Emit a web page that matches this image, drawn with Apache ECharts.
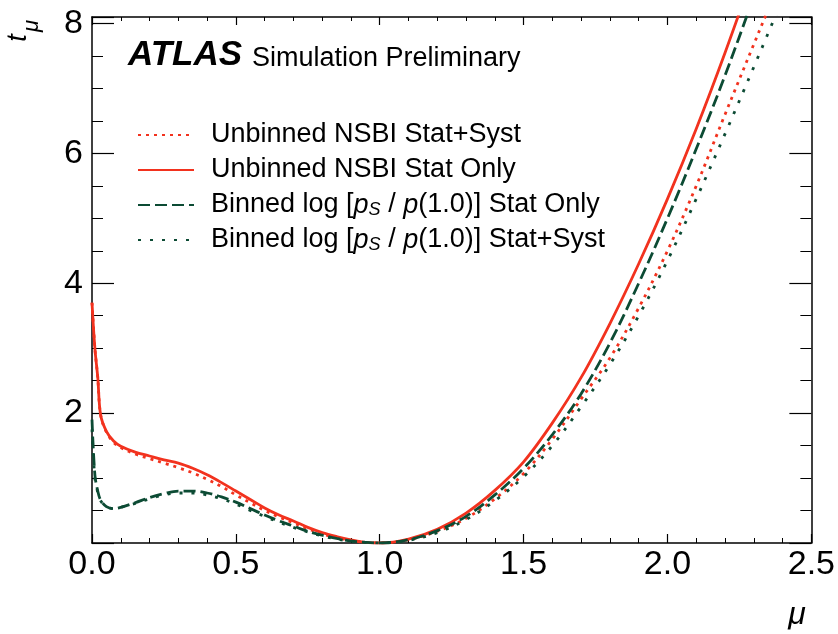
<!DOCTYPE html>
<html>
<head>
<meta charset="utf-8">
<script src="https://cdn.jsdelivr.net/npm/echarts@6/dist/echarts.min.js"></script>
<style>
  html, body { margin: 0; padding: 0; background: #fff; }
  #main { width: 838px; height: 634px; }
</style>
</head>
<body>
<div id="main"></div>
<script>
// mu scan points
var mu = [0, 0.01, 0.02, 0.03, 0.05, 0.075, 0.1, 0.15, 0.2, 0.25, 0.3, 0.35, 0.4, 0.45, 0.5,
  0.55, 0.6, 0.65, 0.7, 0.75, 0.8, 0.85, 0.9, 0.95, 1.0,
  1.1, 1.2, 1.3, 1.4, 1.5, 1.6, 1.7, 1.8, 1.9, 2.0, 2.1, 2.2, 2.3, 2.4, 2.5];

// t_mu values
var unbinnedSyst = [3.7, 3.0, 2.55, 1.97, 1.71, 1.55, 1.47, 1.37, 1.30, 1.23, 1.16, 1.08, 0.98, 0.87, 0.74,
  0.62, 0.50, 0.40, 0.31, 0.22, 0.14, 0.08, 0.04, 0.01, 0,
  0.05, 0.18, 0.38, 0.68, 1.07, 1.6, 2.22, 2.85, 3.62, 4.5, 5.5, 6.6, 7.68, 8.75, 9.8];
var unbinnedStat = [3.7, 3.0, 2.55, 1.97, 1.72, 1.57, 1.49, 1.40, 1.34, 1.28, 1.23, 1.15, 1.05, 0.93, 0.80,
  0.67, 0.54, 0.43, 0.34, 0.24, 0.16, 0.10, 0.05, 0.01, 0,
  0.06, 0.21, 0.46, 0.81, 1.25, 1.85, 2.55, 3.38, 4.3, 5.3, 6.38, 7.55, 8.8, 10.1, 11.4];
var binnedStat = [1.9, 1.05, 0.8, 0.66, 0.56, 0.53, 0.55, 0.62, 0.70, 0.76, 0.80, 0.80, 0.77, 0.71, 0.63,
  0.53, 0.43, 0.34, 0.26, 0.18, 0.12, 0.07, 0.03, 0.01, 0,
  0.05, 0.19, 0.41, 0.74, 1.15, 1.67, 2.3, 3.08, 4.0, 5.0, 6.07, 7.2, 8.42, 9.7, 11.0];
var binnedSyst = [1.75, 1.0, 0.78, 0.65, 0.56, 0.53, 0.55, 0.61, 0.68, 0.74, 0.77, 0.77, 0.74, 0.68, 0.60,
  0.50, 0.41, 0.32, 0.24, 0.17, 0.11, 0.06, 0.03, 0.01, 0,
  0.04, 0.16, 0.36, 0.65, 1.02, 1.5, 2.1, 2.75, 3.5, 4.35, 5.3, 6.3, 7.33, 8.38, 9.45];

var names = ['Unbinned NSBI Stat+Syst', 'Unbinned NSBI Stat Only',
  'Binned log [pS / p(1.0)] Stat Only', 'Binned log [pS / p(1.0)] Stat+Syst'];

var RED = '#f2321e';
var GREEN = '#0c4b34';
var FONT = '"Liberation Sans", Arial, Helvetica, sans-serif';

function pairs(ys) {
  return mu.map(function (m, i) { return [m, ys[i]]; });
}

function line(name, ys, color, type, z) {
  return {
    name: name,
    type: 'line',
    data: pairs(ys),
    symbol: 'none',
    smooth: 0.35,
    z: z,
    lineStyle: { color: color, width: 2.8, type: type },
    itemStyle: { color: color }
  };
}

// inward ticks on all four sides, no axis jumping to zero
function frameAxis(extra) {
  var base = {
    type: 'value',
    axisLine: { show: true, onZero: false, lineStyle: { color: '#000', width: 1.5 } },
    splitLine: { show: false }
  };
  return Object.assign(base, extra);
}

var chart = echarts.init(document.getElementById('main'));

var option = {
  animation: false,
  backgroundColor: '#fff',
  textStyle: { fontFamily: FONT },
  grid: { left: 92, right: 26, top: 17, bottom: 91, containLabel: false },
  legend: {
    orient: 'vertical',
    left: 132,
    top: 116,
    itemWidth: 56,
    itemHeight: 14,
    itemGap: 7,
    data: names,
    itemStyle: { opacity: 0, borderWidth: 0 },
    textStyle: {
      fontFamily: FONT, fontSize: 27, color: '#000', lineHeight: 28, padding: [0, 0, 0, 12],
      rich: {
        i: { fontFamily: FONT, fontSize: 27, fontStyle: 'italic', color: '#000', lineHeight: 28 },
        s: { fontFamily: FONT, fontSize: 18, fontStyle: 'italic', color: '#000', lineHeight: 12, verticalAlign: 'bottom' }
      }
    },
    formatter: function (n) {
      return n.replace('pS', '{i|p}{s|S}').replace(' p(', ' {i|p}(');
    }
  },
  xAxis: [
    frameAxis({
      min: 0, max: 2.5, interval: 0.5, position: 'bottom',
      axisTick: { inside: true, length: 9, lineStyle: { color: '#000', width: 1.2 } },
      minorTick: { show: true, splitNumber: 5, length: 5, lineStyle: { color: '#000', width: 1 } },
      axisLabel: {
        color: '#000', fontSize: 34, fontFamily: FONT, margin: 5,
        formatter: function (v) { return v.toFixed(1); }
      }
    }),
    frameAxis({
      min: 0, max: 2.5, interval: 0.5, position: 'top',
      axisTick: { inside: true, length: 8, lineStyle: { color: '#000', width: 1.2 } },
      minorTick: { show: true, splitNumber: 5, length: 4, lineStyle: { color: '#000', width: 1 } },
      axisLabel: { show: false }
    })
  ],
  yAxis: [
    frameAxis({
      min: 0, max: 8.1, interval: 2, position: 'left',
      axisTick: { inside: true, length: 22, lineStyle: { color: '#000', width: 1.2 } },
      minorTick: { show: true, splitNumber: 4, length: 11, lineStyle: { color: '#000', width: 1 } },
      axisLabel: {
        color: '#000', fontSize: 34, fontFamily: FONT, margin: 9,
        showMinLabel: false, showMaxLabel: false
      }
    }),
    frameAxis({
      min: 0, max: 8.1, interval: 2, position: 'right',
      axisTick: { inside: true, length: 22, lineStyle: { color: '#000', width: 1.2 } },
      minorTick: { show: true, splitNumber: 4, length: 11, lineStyle: { color: '#000', width: 1 } },
      axisLabel: { show: false }
    })
  ],
  series: [
    line(names[0], unbinnedSyst, RED, [3, 5], 3),
    line(names[1], unbinnedStat, RED, 'solid', 4),
    line(names[2], binnedStat, GREEN, [12, 5], 5),
    line(names[3], binnedSyst, GREEN, [3, 9], 6)
  ],
  graphic: [
    {
      type: 'text', left: 128, top: 38,
      style: { text: 'ATLAS', font: 'italic bold 35px ' + FONT, fill: '#000' }
    },
    {
      type: 'text', left: 252, top: 45,
      style: { text: 'Simulation Preliminary', font: '27px ' + FONT, fill: '#000' }
    },
    {
      type: 'text', x: 18, y: 38, rotation: Math.PI / 2,
      style: { text: 't', font: 'italic 27px ' + FONT, fill: '#000', align: 'center', verticalAlign: 'middle' }
    },
    {
      type: 'text', x: 32, y: 26, rotation: Math.PI / 2,
      style: { text: 'μ', font: 'italic 22px ' + FONT, fill: '#000', align: 'center', verticalAlign: 'middle' }
    },
    {
      type: 'text', x: 797, y: 615,
      style: { text: 'μ', font: 'italic 32px ' + FONT, fill: '#000', align: 'center', verticalAlign: 'middle' }
    }
  ]
};

chart.setOption(option);
</script>
</body>
</html>
